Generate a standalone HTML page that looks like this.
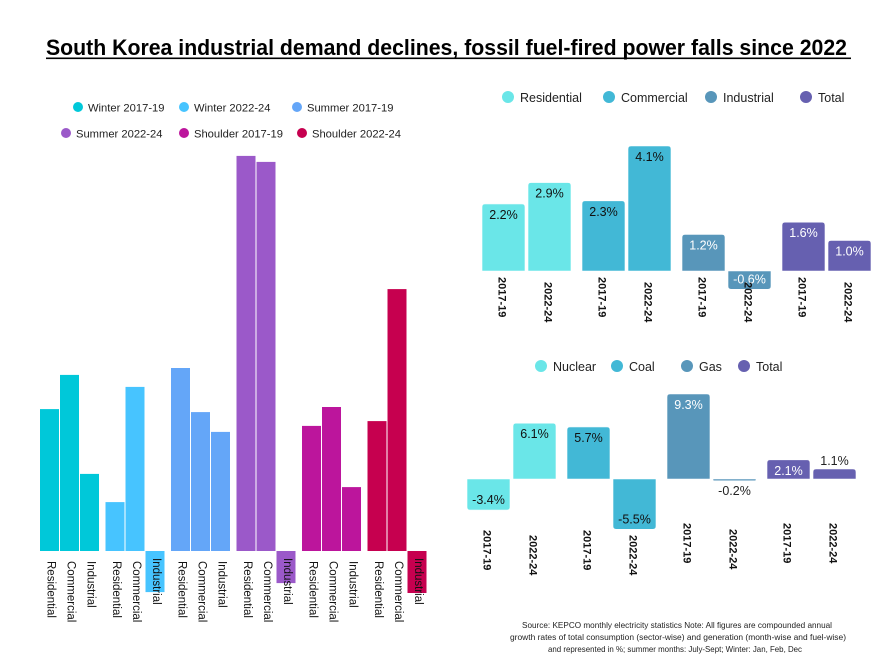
<!DOCTYPE html>
<html><head><meta charset="utf-8"><style>
html,body{margin:0;padding:0;background:#fff;}
svg{display:block;font-family:"Liberation Sans",sans-serif;}
</style></head><body>
<svg id="c" width="887" height="664" viewBox="0 0 887 664" xmlns="http://www.w3.org/2000/svg">
<text x="46" y="55" font-size="22" font-weight="bold" textLength="801" lengthAdjust="spacingAndGlyphs" fill="#000">South Korea industrial demand declines, fossil fuel-fired power falls since 2022</text>
<rect x="46" y="57.5" width="805" height="1.6" fill="#000"/>
<g id="left"></g><g id="tr"></g><g id="br"></g>
<g font-size="8.6" fill="#222" text-anchor="middle">
<text x="677" y="628" textLength="310" lengthAdjust="spacingAndGlyphs">Source: KEPCO monthly electricity statistics Note: All figures are compounded annual</text>
<text x="678" y="640" textLength="336" lengthAdjust="spacingAndGlyphs">growth rates of total consumption (sector-wise) and generation (month-wise and fuel-wise)</text>
<text x="675" y="652" textLength="254" lengthAdjust="spacingAndGlyphs">and represented in %; summer months: July-Sept; Winter: Jan, Feb, Dec</text>
</g>
</svg>
<script>
// ---- Left chart data ----
const seasons = ["Winter 2017-19","Winter 2022-24","Summer 2017-19","Summer 2022-24","Shoulder 2017-19","Shoulder 2022-24"];
const sectors = ["Residential","Commercial","Industrial"];
const residentialVals = [4.73, 1.63, 6.1, 13.17, 4.17, 4.33];
const commercialVals = [5.87, 5.47, 4.63, 12.97, 4.8, 8.73];
const industrialVals = [2.57, -1.37, 3.97, -1.07, 2.13, -1.4];
// ---- Top-right chart data ----
const sectorCats = ["Residential","Commercial","Industrial","Total"];
const periods = ["2017-19","2022-24"];
const sector1719 = [2.2, 2.3, 1.2, 1.6];
const sector2224 = [2.9, 4.1, -0.6, 1.0];
// ---- Bottom-right chart data ----
const fuelCats = ["Nuclear","Coal","Gas","Total"];
const fuel1719 = [-3.4, 5.7, 9.3, 2.1];
const fuel2224 = [6.1, -5.5, -0.2, 1.1];

const NS="http://www.w3.org/2000/svg";
function mk(tag, attrs, parent, txt){const e=document.createElementNS(NS,tag);for(const k in attrs)e.setAttribute(k,attrs[k]);if(txt!==undefined)e.textContent=txt;parent.appendChild(e);return e;}
function roundTop(x,w,v,yv,r){
  const y1=yv(v), base=yv(0);
  if(v>=0){return `M${x},${base}V${y1+r}Q${x},${y1} ${x+r},${y1}H${x+w-r}Q${x+w},${y1} ${x+w},${y1+r}V${base}Z`;}
  return `M${x},${base}V${y1-r}Q${x},${y1} ${x+r},${y1}H${x+w-r}Q${x+w},${y1} ${x+w},${y1-r}V${base}Z`;
}

// ---- Left chart ----
const L=document.getElementById('left');
const seasonColors=["#00c8d9","#47c4ff","#64a6f8","#9b59c9","#bc159c","#c6004f"];
const lBase=551, lScale=30;
const ly=v=>lBase-v*lScale;
const gx=i=>40+i*65.5;
const legPos=[[78,107],[184,107],[297,107],[66,133],[184,133],[302,133]];
seasons.forEach((s,i)=>{
  const g=mk('g',{},L);
  
  
  mk('circle',{cx:legPos[i][0],cy:legPos[i][1],r:5,fill:seasonColors[i]},g);
  mk('text',{x:legPos[i][0]+10,y:legPos[i][1]+4.5,'font-size':11.2,fill:'#222'},g,s);
});
seasons.forEach((s,i)=>{
  const vals=[residentialVals[i],commercialVals[i],industrialVals[i]];
  vals.forEach((v,j)=>{
    const x=gx(i)+j*20, w=19;
    const y=Math.min(ly(v),ly(0)), h=Math.abs(ly(v)-ly(0));
    const r=mk('rect',{x:x,y:y,width:w,height:h,fill:seasonColors[i]},L);
    
    
    const cx=x+w/2-2, ty=(v<0 && j==2)?558:561;
    const t=mk('text',{x:cx,y:ty,'font-size':11.5,fill:'#111',transform:`rotate(90 ${cx} ${ty})`},L,sectors[j]);
    
    
  });
});

// ---- paired charts ----
function paired(G, cats, a, b, base, scale, x0, colors, legendX, legendY, labelColors, tickY, prefix){
  const yv=v=>base-v*scale;
  cats.forEach((c,i)=>{
    const g=mk('g',{},G);
    
    
    mk('circle',{cx:legendX[i],cy:legendY,r:6,fill:colors[i]},g);
    mk('text',{x:legendX[i]+12,y:legendY+5,'font-size':12.5,fill:'#222'},g,c);
  });
  cats.forEach((c,i)=>{
    [a[i],b[i]].forEach((v,j)=>{
      const x=x0+i*100+j*46, w=43;
      const p=mk('path',{d:roundTop(x,w,v,yv,Math.min(3,Math.abs(v)*scale/2)),fill:colors[i],stroke:'#fff','stroke-width':0.6},G);
      
      
      const lab=(v<0?'-':'')+Math.abs(v).toFixed(1)+'%';
      const h=Math.abs(v)*scale;
      let ty, fill=labelColors[i];
      if(h<16){ ty = v>=0 ? yv(v)-4 : yv(v)+14; fill='#222'; }
      else ty = v>=0 ? yv(v)+15 : yv(v)-6;
      const t=mk('text',{x:x+w/2,y:ty,'font-size':12.5,'text-anchor':'middle',fill:fill},G,lab);
      
      
      const tx=x+w/2-5, tyy=tickY[i][j];
      const tk=mk('text',{x:tx,y:tyy,'font-size':11,'font-weight':'bold',fill:'#111',transform:`rotate(90 ${tx} ${tyy})`},G,periods[j]);
      
      
    });
  });
}
paired(document.getElementById('tr'), sectorCats, sector1719, sector2224, 271, 30.5, 482,
  ["#6ae6e8","#42b8d6","#5896ba","#6660b0"], [508,609,711,806], 97,
  ["#111","#111","#fff","#fff"], [[277,282],[277,282],[277,282],[277,282]], 'sector');
paired(document.getElementById('br'), fuelCats, fuel1719, fuel2224, 479, 9.14, 467,
  ["#6ae6e8","#42b8d6","#5896ba","#6660b0"], [541,617,687,744], 366,
  ["#111","#111","#fff","#fff"], [[530,535],[530,535],[523,529],[523,523]], 'fuel');
</script>
</body></html>
